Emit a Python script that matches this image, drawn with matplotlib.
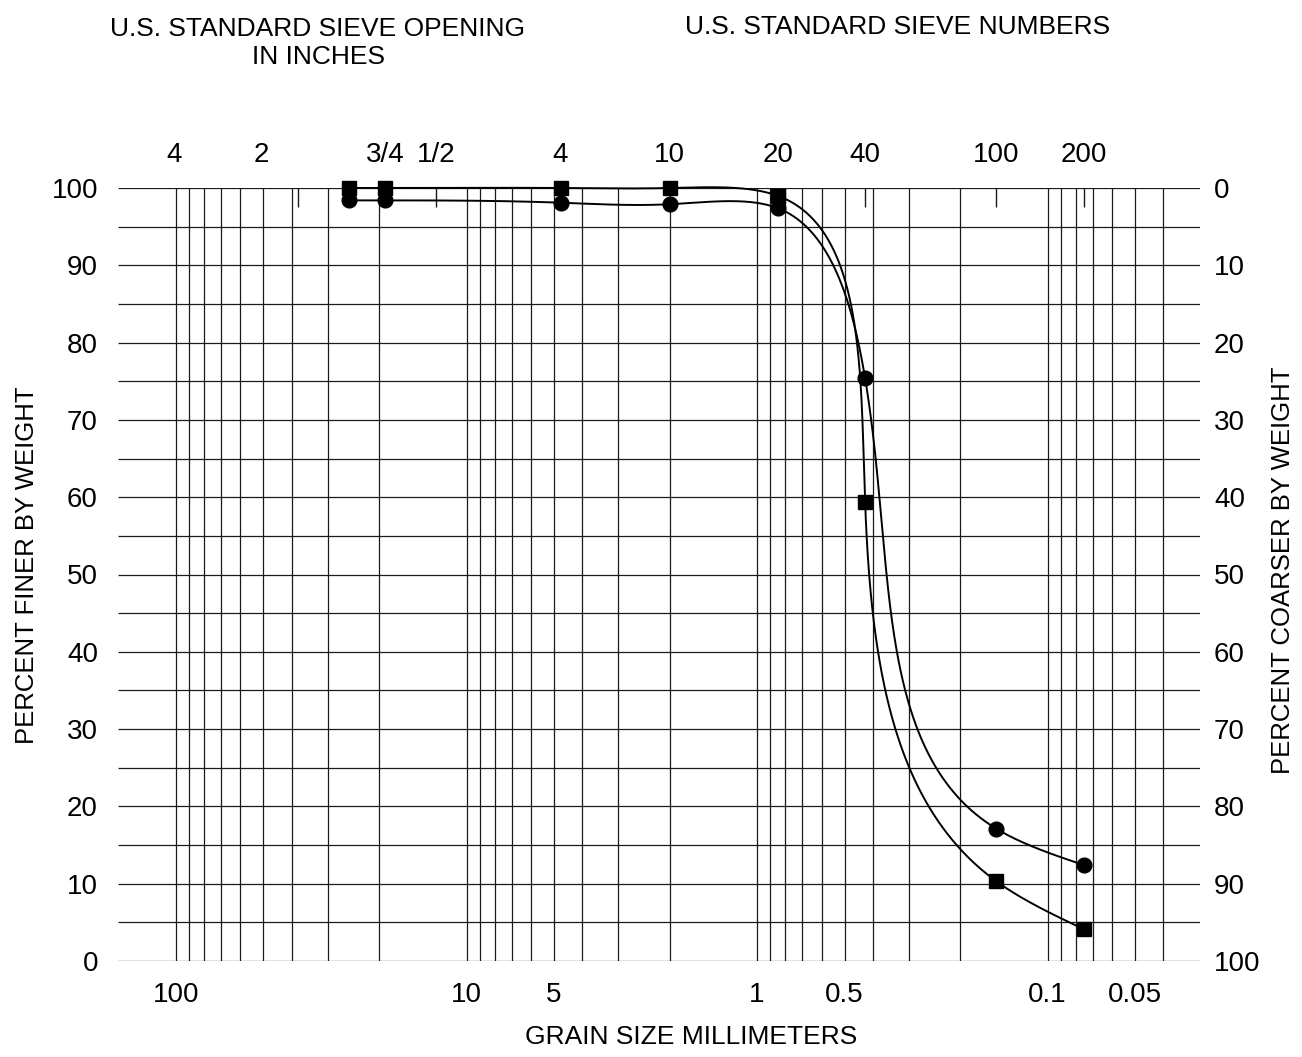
import numpy as np
import matplotlib
matplotlib.use("Agg")
import matplotlib.pyplot as plt
from matplotlib.ticker import NullLocator, NullFormatter

plt.rcParams['font.family'] = ['Liberation Sans', 'DejaVu Sans']

# sieve openings (mm) and the labels written above the chart
sieve_mm = [101.6, 50.8, 19.05, 12.7, 4.75, 2.0, 0.85, 0.425, 0.15, 0.075]
sieve_labels = ['4', '2', '3/4', '1/2', '4', '10', '20', '40', '100', '200']
# short marks hanging from the top line
mark_mm = [38.1, 12.7, 0.425, 0.15, 0.075]

# test results, percent finer by weight
size_mm = [25.4, 19.05, 4.75, 2.0, 0.85, 0.425, 0.15, 0.075]
finer_circle = [98.4, 98.4, 98.1, 97.9, 97.4, 75.4, 17.1, 12.4]
finer_square = [100, 100, 100, 100, 99.0, 59.4, 10.3, 4.1]

bottom_ticks = [100, 10, 5, 1, 0.5, 0.1, 0.05]
bottom_labels = ['100', '10', '5', '1', '0.5', '0.1', '0.05']

xmax_mm = 158.4
xmin_mm = 0.0299

W, H = 1302, 1057


def natural_spline(t, y, ts):
    n = len(t)
    h = np.diff(t)
    A = np.zeros((n, n))
    b = np.zeros(n)
    A[0, 0] = A[-1, -1] = 1.0
    for i in range(1, n - 1):
        A[i, i - 1] = h[i - 1]
        A[i, i] = 2 * (h[i - 1] + h[i])
        A[i, i + 1] = h[i]
        b[i] = 6 * ((y[i + 1] - y[i]) / h[i] - (y[i] - y[i - 1]) / h[i - 1])
    M = np.linalg.solve(A, b)
    idx = np.clip(np.searchsorted(t, ts, side='right') - 1, 0, n - 2)
    t0 = t[idx]
    t1 = t[idx + 1]
    hh = t1 - t0
    a = (t1 - ts) / hh
    c = (ts - t0) / hh
    return (a * y[idx] + c * y[idx + 1]
            + ((a ** 3 - a) * M[idx] + (c ** 3 - c) * M[idx + 1]) * hh ** 2 / 6)


def smooth_curve(ax, xs, ys):
    # parametric spline through the points, in screen space
    pts = ax.transData.transform(np.column_stack([xs, ys]))
    seg = np.hypot(np.diff(pts[:, 0]), np.diff(pts[:, 1]))
    t = np.concatenate([[0], np.cumsum(seg)])
    ts = np.linspace(0, t[-1], 2000)
    px = natural_spline(t, pts[:, 0], ts)
    py = natural_spline(t, pts[:, 1], ts)
    back = ax.transData.inverted().transform(np.column_stack([px, py]))
    return back[:, 0], back[:, 1]


fig = plt.figure(figsize=(W / 100, H / 100), dpi=100)
ax = fig.add_axes([118 / W, 1 - 961 / H, (1200 - 118) / W, (961 - 188) / H])
ax.set_xscale('log')
ax.set_xlim(xmax_mm, xmin_mm)
ax.set_ylim(0, 100)
for s in ax.spines.values():
    s.set_visible(False)

# grid
grid_mm = [k * 10.0 ** e for e in range(-2, 2) for k in range(1, 10)] + [100]
grid_mm = [g for g in grid_mm if g >= 0.04 * 0.999]
ax.vlines(grid_mm, 0, 100, color='0.1', lw=0.9, zorder=1)
ax.hlines(np.arange(0, 101, 5), xmax_mm, xmin_mm, color='0.1', lw=0.9, zorder=1)

# ticks
ax.xaxis.set_minor_locator(NullLocator())
ax.set_xticks(bottom_ticks, labels=bottom_labels)
ax.set_yticks(np.arange(0, 101, 10))
ax.tick_params(axis='both', which='both', length=0, labelsize=20)
ax.tick_params(axis='x', pad=15)
ax.tick_params(axis='y', pad=14.4)

ax2 = ax.twinx()
ax2.set_ylim(100, 0)
ax2.set_yticks(np.arange(0, 101, 10))
ax2.tick_params(length=0, labelsize=20, pad=10)
for s in ax2.spines.values():
    s.set_visible(False)

top = ax.secondary_xaxis('top')
top.xaxis.remove_overlapping_locs = False
top.set_xticks(sieve_mm, labels=sieve_labels)
top.set_xticks(mark_mm, minor=True)
top.xaxis.set_minor_formatter(NullFormatter())
top.tick_params(which='major', length=0, labelsize=20, pad=14.4)
top.tick_params(which='minor', direction='in', length=13.7, width=1.0, color='0.1')
top.spines['top'].set_visible(False)

# curves and points
cx, cy = smooth_curve(ax, size_mm, finer_circle)
ax.plot(cx, cy, color='k', lw=1.4, clip_on=False, zorder=3)
sx, sy = smooth_curve(ax, size_mm, finer_square)
ax.plot(sx, sy, color='k', lw=1.4, clip_on=False, zorder=3)
ax.plot(size_mm, finer_circle, 'o', ms=10.6, color='k', clip_on=False, zorder=4)
ax.plot(size_mm, finer_square, 's', ms=10.3, color='k', clip_on=False, zorder=4)

# titles and axis names
fig.text(318 / W, 1 - 36 / H, 'U.S. STANDARD SIEVE OPENING', ha='center', va='baseline', fontsize=19)
fig.text(318 / W, 1 - 64 / H, 'IN INCHES', ha='center', va='baseline', fontsize=19)
fig.text(898 / W, 1 - 34 / H, 'U.S. STANDARD SIEVE NUMBERS', ha='center', va='baseline', fontsize=19)
fig.text(691 / W, 1 - 1044 / H, 'GRAIN SIZE MILLIMETERS', ha='center', va='baseline', fontsize=19)
fig.text(27 / W, 1 - 565 / H, 'PERCENT FINER BY WEIGHT', rotation=90,
         ha='center', va='center', fontsize=18.5)
fig.text(1283 / W, 1 - 570 / H, 'PERCENT COARSER BY WEIGHT', rotation=90,
         ha='center', va='center', fontsize=18.5)

fig.savefig('out.png', dpi=100)
